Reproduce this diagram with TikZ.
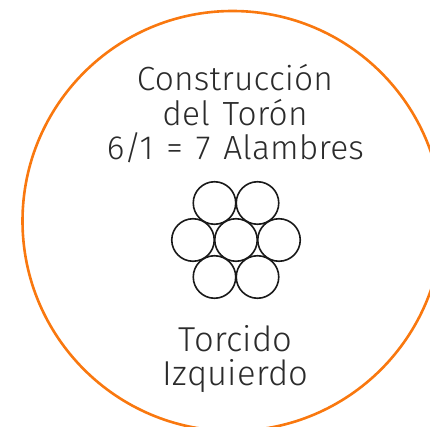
\documentclass[tikz,border=0pt]{standalone}
\usepackage{fontspec}
\setmainfont{Fira Sans}[UprightFont=* Light,WordSpace=1.35,LetterSpace=0.6]
\definecolor{ring}{HTML}{F9780F}
\definecolor{ink}{HTML}{2B2B2B}
\tikzset{wire/.style={circle,draw=black!90,line width=1.6pt,minimum size=42.5pt,inner sep=0pt,fill=white},
lbl/.style={text=ink,font=\fontsize{33.5pt}{33.5pt}\selectfont,anchor=base},
lblb/.style={lbl,font=\fontsize{34.6pt}{34.6pt}\selectfont}}
\begin{document}
\begin{tikzpicture}[x=1pt,y=-1pt]
\useasboundingbox (0,0) rectangle (430,427);
\begin{scope}
\clip (0,0) rectangle (430,427);
\draw[ring,line width=2.6pt] (232.5,221) circle (210);
\end{scope}
\node[lbl] (t1) at (235,91) {Construcción};
\node[lbl] (t2) at (235,125.5) {del Torón};
\node[lbl] (t3) at (235.5,160) {6/1 = 7 Alambres};
\node[wire] (w1) at (214.5,203) {};
\node[wire] (w2) at (257.5,203) {};
\node[wire] (w3) at (193,240) {};
\node[wire] (w4) at (236,240) {};
\node[wire] (w5) at (279,240) {};
\node[wire] (w6) at (214.5,277) {};
\node[wire] (w7) at (257.5,277) {};
\node[lblb] (t4) at (235.5,351) {Torcido};
\node[lblb] (t5) at (235.5,385) {Izquierdo};
\end{tikzpicture}
\end{document}
